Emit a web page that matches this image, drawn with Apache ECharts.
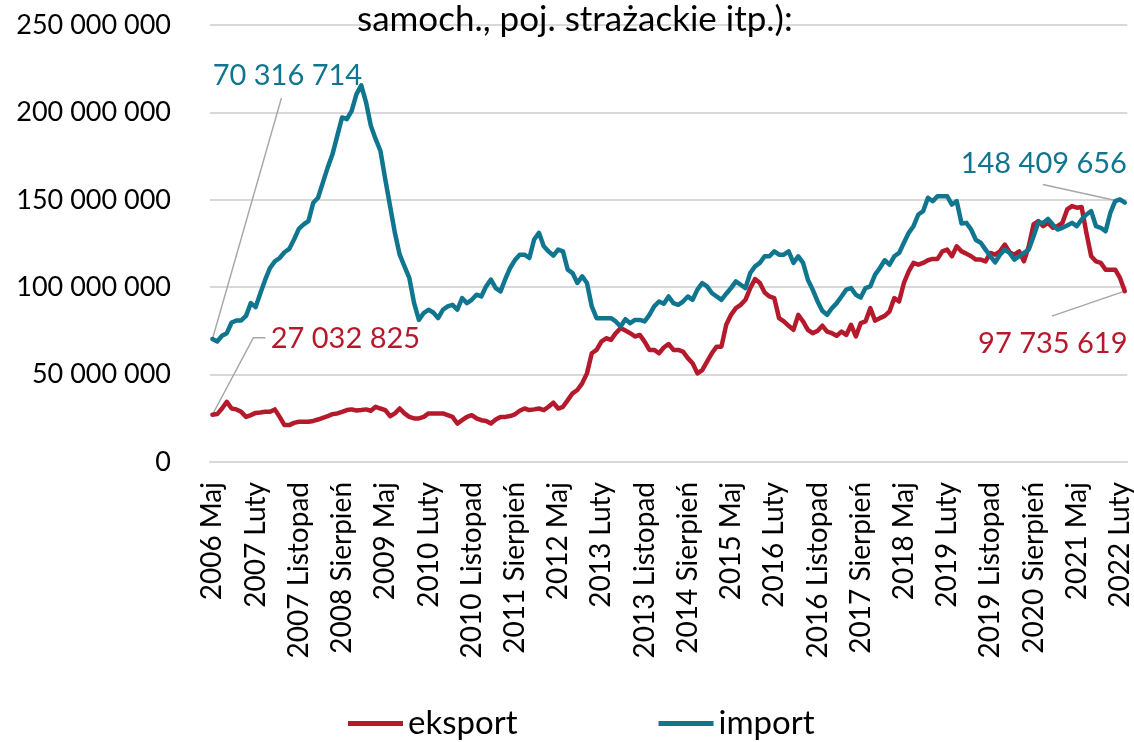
<!DOCTYPE html>
<html>
<head>
<meta charset="utf-8">
<title>eksport / import</title>
<script src="https://cdn.jsdelivr.net/npm/echarts@6/dist/echarts.min.js"></script>
<style>
  html, body { margin: 0; padding: 0; background: #fff; }
  #chart { width: 1134px; height: 742px; }
</style>
</head>
<body>
<div id="chart"></div>
<script>
// miesiące od 2006 Maj (191 punktów)
var monthNames = ['Styczeń', 'Luty', 'Marzec', 'Kwiecień', 'Maj', 'Czerwiec', 'Lipiec',
  'Sierpień', 'Wrzesień', 'Październik', 'Listopad', 'Grudzień'];
var startYear = 2006, startMonth = 4, pointCount = 191;

// wartości w mln
var eksport = [
  27.032825, 27.4, 30.6, 34.4, 30.6, 30.1, 28.7, 25.8, 26.8, 28.1,
  28.3, 28.7, 28.7, 30.1, 25.8, 21.1, 21.1, 22.4, 23.0, 23.0,
  23.0, 23.5, 24.3, 25.3, 26.2, 27.4, 27.8, 28.7, 29.7, 30.1,
  29.5, 29.7, 30.1, 29.3, 31.6, 30.6, 29.7, 26.2, 27.8, 30.6,
  27.8, 25.8, 24.9, 24.9, 25.8, 27.8, 27.8, 27.8, 27.8, 26.8,
  25.8, 22.0, 23.9, 25.8, 26.8, 24.9, 23.9, 23.5, 22.0, 24.3,
  25.8, 25.8, 26.3, 27.3, 29.3, 30.6, 29.7, 30.1, 30.6, 29.7,
  31.6, 33.9, 30.6, 31.6, 35.4, 39.3, 41.2, 45.0, 50.7, 62.2,
  64.1, 68.9, 70.8, 69.9, 73.7, 76.6, 75.2, 73.7, 71.8, 72.7,
  68.9, 64.1, 64.1, 62.2, 65.5, 67.5, 64.1, 64.1, 63.1, 59.4,
  56.5, 50.7, 52.6, 57.4, 62.2, 66.0, 66.0, 78.5, 84.2, 88.0,
  89.9, 92.8, 99.5, 104.7, 102.4, 97.0, 94.7, 93.8, 82.3, 80.4,
  77.9, 75.6, 84.2, 80.4, 75.6, 73.7, 75.0, 78.0, 74.6, 73.7,
  72.2, 74.6, 72.7, 78.5, 71.8, 79.4, 80.4, 88.0, 80.9, 82.3,
  83.6, 86.1, 93.8, 91.8, 102.4, 109.1, 113.9, 112.9, 113.9, 115.4,
  116.2, 116.2, 120.5, 121.5, 117.7, 123.4, 120.5, 119.2, 117.7, 115.8,
  115.8, 114.8, 119.6, 118.6, 120.5, 124.4, 120.0, 118.6, 120.5, 114.8,
  123.4, 135.9, 137.8, 134.9, 136.8, 134.0, 134.9, 136.8, 144.5, 146.4,
  145.5, 145.9, 131.1, 117.7, 114.8, 113.9, 110.0, 110.0, 110.0, 105.3,
  97.735619
];

var imp = [
  70.316714, 68.9, 72.2, 73.7, 79.8, 80.9, 81.0, 83.6, 90.9, 88.6,
  96.7, 104.3, 111.0, 114.8, 116.7, 120.0, 121.9, 127.3, 133.4, 135.9,
  137.8, 148.3, 151.2, 159.8, 168.4, 176.0, 186.6, 197.1, 196.1, 200.9,
  210.5, 215.5, 205.7, 192.3, 184.7, 177.9, 161.7, 146.4, 131.1, 118.6,
  111.9, 105.3, 90.9, 81.3, 85.2, 87.1, 85.5, 82.3, 87.1, 89.0,
  89.9, 87.1, 93.8, 90.9, 92.8, 95.7, 94.7, 100.5, 104.3, 99.5,
  97.6, 104.7, 111.0, 115.5, 118.6, 118.6, 116.7, 127.3, 131.1, 123.4,
  120.5, 118.1, 121.5, 120.5, 110.0, 108.1, 102.4, 106.2, 102.4, 89.0,
  82.3, 82.3, 82.3, 82.3, 80.4, 77.5, 81.7, 79.4, 81.3, 81.3,
  80.4, 84.2, 89.0, 91.8, 90.5, 94.7, 90.9, 89.9, 91.8, 94.7,
  92.8, 98.6, 102.4, 100.5, 96.7, 94.7, 92.8, 96.3, 99.5, 103.3,
  101.4, 99.5, 108.1, 111.9, 113.9, 117.7, 117.7, 120.5, 118.6, 118.6,
  120.5, 113.9, 117.7, 113.9, 104.3, 98.6, 92.0, 86.5, 84.2, 88.0,
  90.9, 94.7, 98.6, 99.5, 95.7, 94.1, 99.5, 100.5, 107.2, 111.0,
  115.4, 112.9, 117.7, 119.6, 125.4, 131.1, 134.9, 141.6, 143.5, 151.2,
  149.2, 152.1, 152.1, 152.1, 147.3, 149.2, 136.4, 136.8, 133.0, 127.0,
  125.4, 121.5, 117.7, 114.2, 118.6, 121.5, 119.6, 115.8, 117.7, 119.6,
  121.5, 129.2, 137.2, 136.8, 139.1, 135.9, 133.0, 134.0, 135.3, 136.8,
  134.9, 138.7, 141.6, 143.5, 134.9, 134.0, 132.0, 142.6, 149.2, 150.2,
  148.409656
];

var categories = [];
for (var i = 0; i < pointCount; i++) {
  var m = startMonth + i;
  categories.push((startYear + Math.floor(m / 12)) + ' ' + monthNames[m % 12]);
}

// 70316714 -> "70 316 714"
function fmt(v) {
  return String(Math.round(v * 1e6)).replace(/\B(?=(\d{3})+(?!\d))/g, ' ');
}

var last = pointCount - 1;

// przesunięcia etykiet [pierwsza, ostatnia] dla każdej serii
var labelShift = [
  [[133, -76], [-72, 52]],
  [[75, -263], [-81, -39]]
];

// linie odniesienia: punkt danych + załamania (względem punktu)
var leaderPoints = [[0, imp[0]], [0, eksport[0]], [last, imp[last]], [last, eksport[last]]];
var leaderBends = [
  [[69, -241]],
  [[41, -77], [53, -77]],
  [[-82, -18]],
  [[-73, 25]]
];

function withEndLabels(arr) {
  return arr.map(function (v, i) {
    if (i === 0 || i === last) {
      return { value: v, label: { show: true } };
    }
    return v;
  });
}

var font = 'Lato, "Open Sans", sans-serif';
var colors = ['#B51A2C', '#10758F'];

var myChart = echarts.init(document.getElementById('chart'));

function makeSeries(name, arr, idx) {
  return {
    name: name,
    type: 'line',
    data: withEndLabels(arr),
    showSymbol: true,
    showAllSymbol: true,
    symbol: 'circle',
    symbolSize: 1,
    z: 3,
    lineStyle: { width: 4.5, color: colors[idx], cap: 'round', join: 'round' },
    itemStyle: { color: colors[idx] },
    label: {
      show: false,
      position: 'inside',
      formatter: function (p) { return fmt(p.value); },
      color: colors[idx],
      fontFamily: font,
      fontSize: 29
    },
    labelLayout: function (p) {
      var s = labelShift[idx][p.dataIndex === 0 ? 0 : 1];
      return { dx: s[0], dy: s[1] };
    },
    emphasis: { disabled: true },
    animation: false
  };
}

var option = {
  color: colors,
  title: {
    text: 'samoch., poj. strażackie itp.):',
    left: 357,
    top: 2,
    padding: 0,
    textStyle: { fontFamily: font, fontSize: 35, fontWeight: 'normal', color: '#000' }
  },
  legend: {
    data: ['eksport', 'import'],
    left: 343,
    top: 702,
    icon: 'rect',
    itemWidth: 55,
    itemHeight: 5,
    itemGap: 141,
    textStyle: { fontFamily: font, fontSize: 33, color: '#000' }
  },
  grid: { left: 210, right: 4, top: 25, bottom: 280 },
  xAxis: {
    type: 'category',
    data: categories,
    boundaryGap: true,
    axisTick: { show: false },
    axisLine: { lineStyle: { color: '#D9D9D9', width: 2 } },
    axisLabel: {
      interval: 8,
      rotate: 90,
      margin: 20,
      fontFamily: font,
      fontSize: 28,
      color: '#000'
    }
  },
  yAxis: {
    type: 'value',
    min: 0,
    max: 250,
    interval: 50,
    axisLine: { show: false },
    axisTick: { show: false },
    splitLine: { lineStyle: { color: '#D9D9D9', width: 2 } },
    axisLabel: {
      margin: 39,
      fontFamily: font,
      fontSize: 27,
      color: '#000',
      formatter: function (v) { return v === 0 ? '0' : fmt(v); }
    }
  },
  series: [
    {
      name: 'leaders',
      type: 'custom',
      data: leaderPoints,
      z: 2,
      silent: true,
      animation: false,
      renderItem: function (params, api) {
        var p = api.coord([api.value(0), api.value(1)]);
        var pts = [p];
        leaderBends[params.dataIndex].forEach(function (b) {
          pts.push([p[0] + b[0], p[1] + b[1]]);
        });
        return {
          type: 'polyline',
          shape: { points: pts },
          style: { stroke: '#A6A6A6', lineWidth: 1.5, fill: null }
        };
      }
    },
    makeSeries('eksport', eksport, 0),
    makeSeries('import', imp, 1)
  ]
};

myChart.setOption(option);
</script>
</body>
</html>
